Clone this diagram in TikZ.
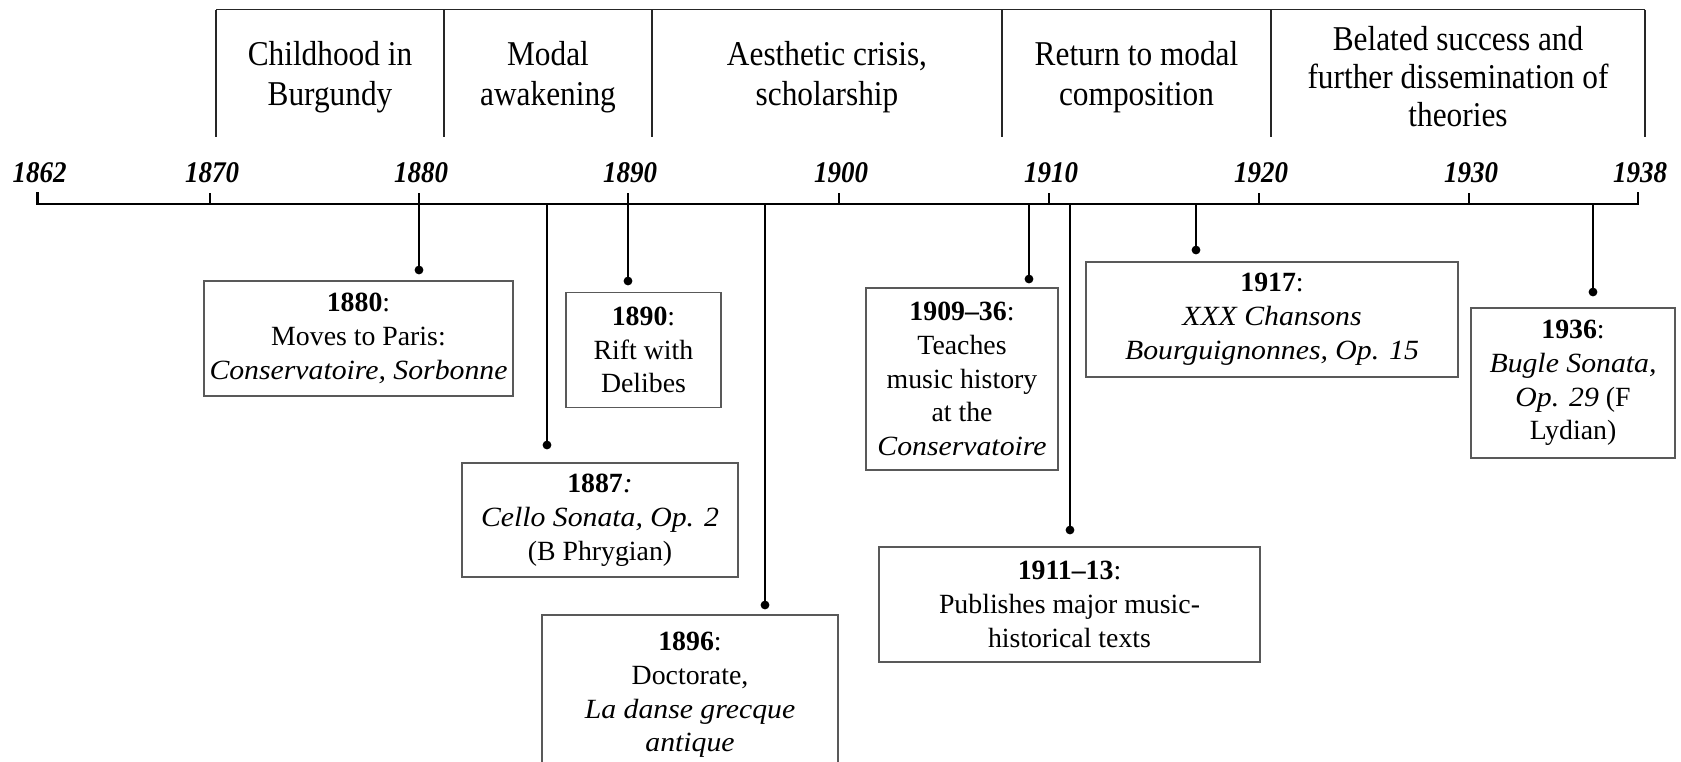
\documentclass[tikz,border=0pt]{standalone}
\usepackage{fontspec}
\setmainfont{Liberation Serif}
\newfontfamily\narrowserif[FakeStretch=0.9]{Liberation Serif}
\newfontfamily\wideserif[FakeStretch=1.07]{Liberation Serif}
\newcommand{\wit}[1]{{\wideserif\itshape #1}}
\tikzset{
  hdrline/.style={draw=black!85, line width=0.85pt},
  hdr/.style={align=center, inner sep=0pt, font=\narrowserif\fontsize{17.4}{19}\selectfont},
  hdrtwo/.style={align=center, inner sep=0pt, font=\narrowserif\fontsize{17.4}{20}\selectfont},
  axisline/.style={draw=black, line width=1.4pt},
  stem/.style={draw=black, line width=1.35pt},
  dot/.style={fill=black},
  yearlab/.style={anchor=base, inner sep=0pt, font=\narrowserif\fontsize{15}{17}\selectfont\bfseries\itshape},
  evbox/.style={draw=black!65, line width=0.7pt, align=center, inner sep=0pt, font=\fontsize{13.9}{16.9}\selectfont},
}
\begin{document}
\begin{tikzpicture}[x=0.5pt,y=-0.5pt]
\useasboundingbox (0,0) rectangle (1681,761);
\clip (0,0) rectangle (1681,761);
\fill[white] (0,0) rectangle (1681,761);

% header frame
\draw[hdrline] (216,9.5) -- (1645,9.5);
\foreach \x in {216,444,652,1002,1271,1645} \draw[hdrline] (\x,9.5) -- (\x,137);

\node[hdrtwo] (h1) at (330,77) {Childhood in\\Burgundy};
\node[hdrtwo] (h2) at (548,77) {Modal\\awakening};
\node[hdrtwo] (h3) at (827,77) {Aesthetic crisis,\\scholarship};
\node[hdrtwo] (h4) at (1136.5,77) {Return to modal\\composition};
\node[hdr] (h5) at (1458,77) {Belated success and\\further dissemination of\\theories};

% axis
\coordinate (axL) at (37.5,204);
\coordinate (axR) at (1638,204);
\draw[axisline] (37.5,192) -- (axL) -- (axR) -- (1638,192);
\foreach \x in {210,419,628,839,1049,1259,1469} \draw[axisline] (\x,204) -- (\x,193);

\foreach \yr/\x in {1862/37.5,1870/210,1880/419,1890/628,1900/839,1910/1049,1920/1259,1930/1469,1938/1638}
  \node[yearlab] (y\yr) at (\x+2,182) {\yr};

% events: axis point, dot, box
\foreach \n/\x/\dy in {1880/419/270,1887/547/445,1890/628/281,1896/765/605,1909/1029/279,1911/1070/530,1917/1196/250,1936/1593/292}{
  \coordinate (a\n) at (\x,204);
  \coordinate (d\n) at (\x,\dy);
  \draw[stem] (a\n) -- (d\n);
  \fill[dot] (d\n) circle[radius=2.2pt];
}

\node[evbox, minimum width=154.5pt, minimum height=57.5pt] (e1880) at (358.5,338.5)
  {\textbf{1880}:\\Moves to Paris:\\\wit{Conservatoire, Sorbonne}};
\node[evbox, minimum width=138pt, minimum height=57pt] (e1887) at (600,520)
  {\textbf{1887}\wit{:}\\\wit{Cello Sonata, Op. 2}\\(B Phrygian)};
\node[evbox, minimum width=77.5pt, minimum height=57.25pt] (e1890) at (643.5,350)
  {\textbf{1890}:\\Rift with\\Delibes};
\node[evbox, minimum width=148pt, minimum height=80pt] (e1896) at (690,695)
  {\textbf{1896}:\\Doctorate,\\\wit{La danse grecque}\\\wit{antique}};
\node[evbox, minimum width=96pt, minimum height=91pt] (e1909) at (962,379)
  {\textbf{1909–36}:\\Teaches\\music history\\at the\\\wit{Conservatoire}};
\node[evbox, minimum width=190.5pt, minimum height=57.5pt] (e1911) at (1069.5,604.5)
  {\textbf{1911–13}:\\Publishes major music-\\historical texts};
\node[evbox, minimum width=186pt, minimum height=57.5pt] (e1917) at (1272,319.5)
  {\textbf{1917}:\\\wit{XXX Chansons}\\\wit{Bourguignonnes, Op. 15}};
\node[evbox, minimum width=102pt, minimum height=75pt] (e1936) at (1573,383)
  {\textbf{1936}:\\\wit{Bugle Sonata,}\\\wit{Op. 29} (F\\Lydian)};
\end{tikzpicture}
\end{document}
